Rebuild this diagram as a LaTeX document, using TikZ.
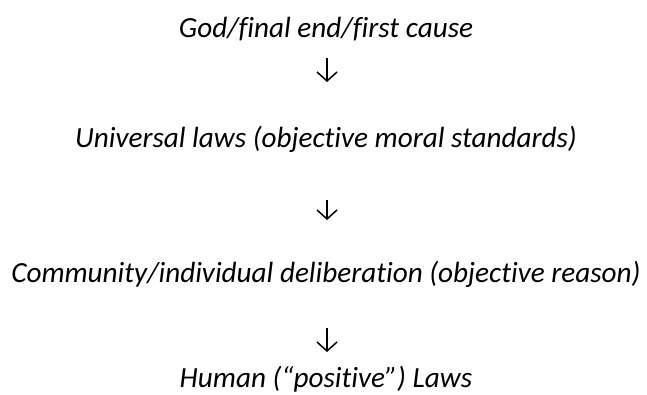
\documentclass[tikz,border=0pt]{standalone}
\usepackage{fontspec}
\setmainfont{Carlito}[Ligatures={NoCommon}]
\usetikzlibrary{arrows.meta}
\tikzset{
  lbl/.style={anchor=base, inner sep=0pt, font=\fontsize{29.2}{32}\selectfont\itshape},
  down/.style={line width=1.5pt, -{Straight Barb[length=9pt, width=20pt, line width=1.5pt]}}
}
\begin{document}
\begin{tikzpicture}[x=1pt, y=-1pt]
\useasboundingbox (0,0) rectangle (647,394);
\node[lbl] (t1) at (326,37) {God/final end/first cause};
\node[lbl] (t2) at (326,147) {Universal laws (objective moral standards)};
\node[lbl] (t3) at (326,282) {Community/individual deliberation (objective reason)};
\node[lbl] (t4) at (326,387) {Human (“positive”) Laws};
\coordinate (a1s) at (327,58);  \coordinate (a1e) at (327,82);
\coordinate (a2s) at (327,200); \coordinate (a2e) at (327,220);
\coordinate (a3s) at (327,328); \coordinate (a3e) at (327,352);
\draw[down] (a1s) -- (a1e);
\draw[down] (a2s) -- (a2e);
\draw[down] (a3s) -- (a3e);
\end{tikzpicture}
\end{document}
